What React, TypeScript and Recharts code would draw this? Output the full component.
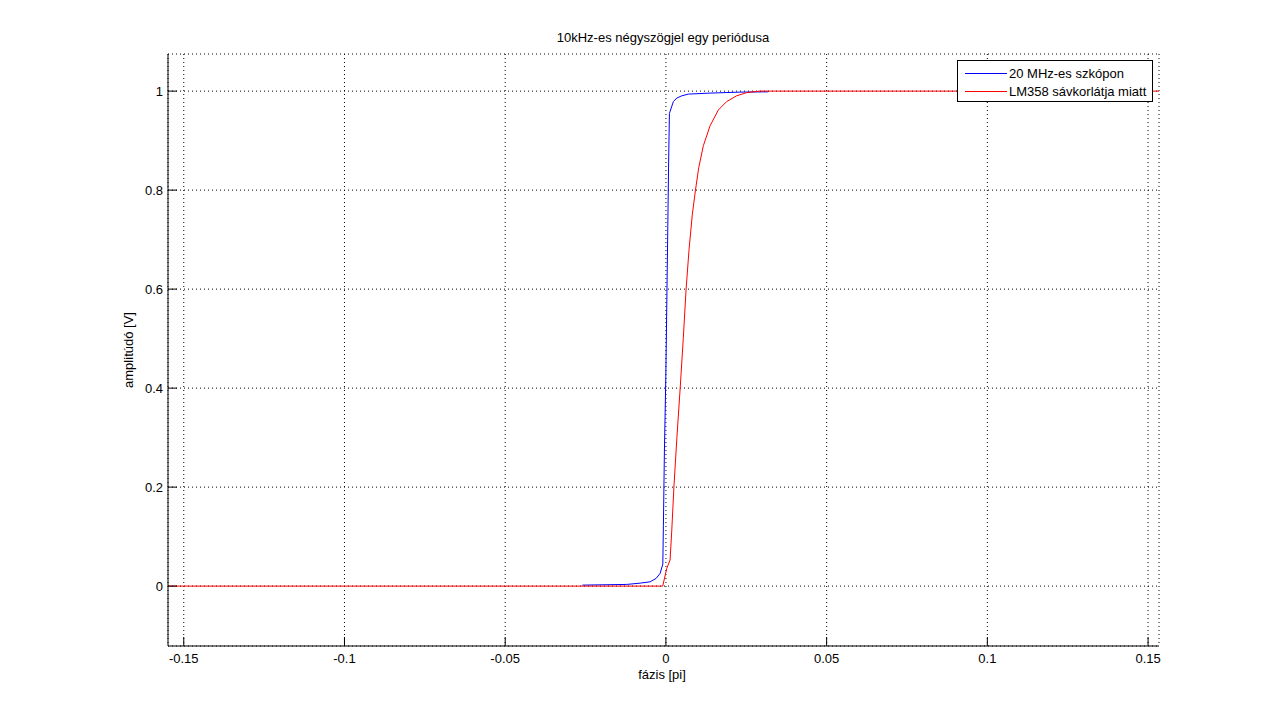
import React from 'react';
import { LineChart, Line, XAxis, YAxis, CartesianGrid, Legend } from 'recharts';

const titleText = '10kHz-es négyszögjel egy periódusa';
const xLabelText = 'fázis [pi]';
const yLabelText = 'amplitúdó [V]';

const seriesNames = ['20 MHz-es szkópon', 'LM358 sávkorlátja miatt'];
const seriesColors = ['#0000ff', '#ff0000'];

const blueX = [-0.026, -0.0122, -0.008, -0.0049, -0.00305, -0.0018, -0.00096, -0.00078, -0.00047, -0.00003, 0.00028, 0.00059, 0.00084, 0.00109, 0.00233, 0.00339, 0.00494, 0.007, 0.0137, 0.0231, 0.0319];
const blueY = [0.002, 0.0034, 0.006, 0.0087, 0.0156, 0.0257, 0.0445, 0.123, 0.271, 0.423, 0.572, 0.726, 0.855, 0.955, 0.979, 0.986, 0.9905, 0.994, 0.996, 0.998, 0.9986];

const redX = [-0.1549, -0.001, 0.00028, 0.0013, 0.00183, 0.00249, 0.00342, 0.00444, 0.0054, 0.00628, 0.0072, 0.0082, 0.0092, 0.0102, 0.01166, 0.01374, 0.01632, 0.01893, 0.022, 0.02515, 0.02928, 0.1534];
const redY = [0, 0, 0.036, 0.0526, 0.113, 0.2, 0.3, 0.4, 0.5, 0.6, 0.68, 0.75, 0.8, 0.845, 0.89, 0.93, 0.962, 0.979, 0.9905, 0.997, 1.0, 1.0];

const xTicks = [-0.15, -0.1, -0.05, 0, 0.05, 0.1, 0.15];
const xTickLabels = ['-0.15', '-0.1', '-0.05', '0', '0.05', '0.1', '0.15'];
const yTicks = [0, 0.2, 0.4, 0.6, 0.8, 1];
const yTickLabels = ['0', '0.2', '0.4', '0.6', '0.8', '1'];

const xDomain = [-0.1549, 0.1534];
const yDomain = [-0.121, 1.075];

const blueData = blueX.map((x, i) => ({ x, y: blueY[i] }));
const redData = redX.map((x, i) => ({ x, y: redY[i] }));

const FONT = '"Liberation Sans", Arial, Helvetica, sans-serif';
const FS = 13;
const TICK_LEN = 9;

const labelFor = (v: number, ticks: number[], labels: string[]) => {
  const i = ticks.findIndex((t) => Math.abs(t - v) < 1e-9);
  return i >= 0 ? labels[i] : String(v);
};

const BottomTick = (props: any) => {
  const { x, y, payload } = props;
  return (
    <g>
      <line x1={x} y1={y} x2={x} y2={y - TICK_LEN} stroke="#000" strokeWidth={1} />
      <text x={x} y={y + 17} textAnchor="middle" fontSize={FS} fontFamily={FONT} fill="#000">
        {labelFor(payload.value, xTicks, xTickLabels)}
      </text>
    </g>
  );
};

const TopTick = (props: any) => {
  const { x, y } = props;
  return <line x1={x} y1={y} x2={x} y2={y + TICK_LEN} stroke="#000" strokeWidth={1} />;
};

const LeftTick = (props: any) => {
  const { x, y, payload } = props;
  return (
    <g>
      <line x1={x} y1={y} x2={x + TICK_LEN} y2={y} stroke="#000" strokeWidth={1} />
      <text x={x - 5} y={y + 5} textAnchor="end" fontSize={FS} fontFamily={FONT} fill="#000">
        {labelFor(payload.value, yTicks, yTickLabels)}
      </text>
    </g>
  );
};

const RightTick = (props: any) => {
  const { x, y } = props;
  return <line x1={x - TICK_LEN} y1={y} x2={x} y2={y} stroke="#000" strokeWidth={1} />;
};

const LegendBox = () => (
  <div
    style={{
      width: 194,
      height: 40,
      border: '1px solid #000',
      background: '#fff',
      fontFamily: FONT,
      fontSize: FS,
      color: '#000',
      position: 'relative',
    }}
  >
    {seriesNames.map((name, i) => (
      <div key={name} style={{ position: 'absolute', left: 0, top: 4 + i * 18, height: 16, display: 'flex', alignItems: 'center' }}>
        <svg width={50} height={16} style={{ display: 'block' }}>
          <line x1={7} y1={8.5} x2={49} y2={8.5} stroke={seriesColors[i]} strokeWidth={1} />
        </svg>
        <span style={{ marginLeft: 1, whiteSpace: 'nowrap' }}>{name}</span>
      </div>
    ))}
  </div>
);

export default function App() {
  return (
    <div style={{ position: 'absolute', left: 0, top: 0, width: 1281, height: 726, background: '#fff' }}>
      <LineChart
        width={1281}
        height={726}
        margin={{ top: 54, right: 122, bottom: 50, left: 108 }}
      >
        <CartesianGrid stroke="#000" strokeDasharray="1 3" />
        <XAxis
          type="number"
          dataKey="x"
          domain={xDomain}
          allowDataOverflow
          ticks={xTicks}
          interval={0}
          tickSize={0}
          tickMargin={0}
          height={30}
          axisLine={{ stroke: '#000' }}
          tickLine={false}
          tick={<BottomTick />}
        />
        <XAxis
          xAxisId="top"
          orientation="top"
          type="number"
          dataKey="x"
          domain={xDomain}
          allowDataOverflow
          ticks={xTicks}
          interval={0}
          tickSize={0}
          tickMargin={0}
          height={0}
          axisLine={{ stroke: '#000' }}
          tickLine={false}
          tick={<TopTick />}
        />
        <YAxis
          type="number"
          domain={yDomain}
          allowDataOverflow
          ticks={yTicks}
          interval={0}
          tickSize={0}
          tickMargin={0}
          width={60}
          axisLine={{ stroke: '#000' }}
          tickLine={false}
          tick={<LeftTick />}
        />
        <YAxis
          yAxisId="right"
          orientation="right"
          type="number"
          domain={yDomain}
          allowDataOverflow
          ticks={yTicks}
          interval={0}
          tickSize={0}
          tickMargin={0}
          width={0}
          axisLine={{ stroke: '#000' }}
          tickLine={false}
          tick={<RightTick />}
        />
        <Line
          data={blueData}
          dataKey="y"
          name={seriesNames[0]}
          type="linear"
          stroke={seriesColors[0]}
          strokeWidth={1}
          dot={false}
          activeDot={false}
          isAnimationActive={false}
        />
        <Line
          data={redData}
          dataKey="y"
          name={seriesNames[1]}
          type="linear"
          stroke={seriesColors[1]}
          strokeWidth={1}
          dot={false}
          activeDot={false}
          isAnimationActive={false}
        />
        <Legend
          layout="vertical"
          align="center"
          verticalAlign="middle"
          content={<LegendBox />}
          wrapperStyle={{ left: 957, top: 60, width: 196, height: 42 }}
        />
      </LineChart>
      <div
        style={{
          position: 'absolute',
          left: 0,
          top: 30,
          width: 1326,
          textAlign: 'center',
          fontFamily: FONT,
          fontSize: FS,
          color: '#000',
          lineHeight: '16px',
          whiteSpace: 'nowrap',
        }}
      >
        {titleText}
      </div>
      <div
        style={{
          position: 'absolute',
          left: 0,
          top: 667,
          width: 1324,
          textAlign: 'center',
          fontFamily: FONT,
          fontSize: FS,
          color: '#000',
          lineHeight: '16px',
          whiteSpace: 'nowrap',
        }}
      >
        {xLabelText}
      </div>
      <div
        style={{
          position: 'absolute',
          left: 129,
          top: 350,
          width: 0,
          height: 0,
        }}
      >
        <div
          style={{
            position: 'absolute',
            left: -100,
            top: -8,
            width: 200,
            textAlign: 'center',
            fontFamily: FONT,
            fontSize: FS,
            color: '#000',
            lineHeight: '16px',
            whiteSpace: 'nowrap',
            transform: 'rotate(-90deg)',
          }}
        >
          {yLabelText}
        </div>
      </div>
    </div>
  );
}
